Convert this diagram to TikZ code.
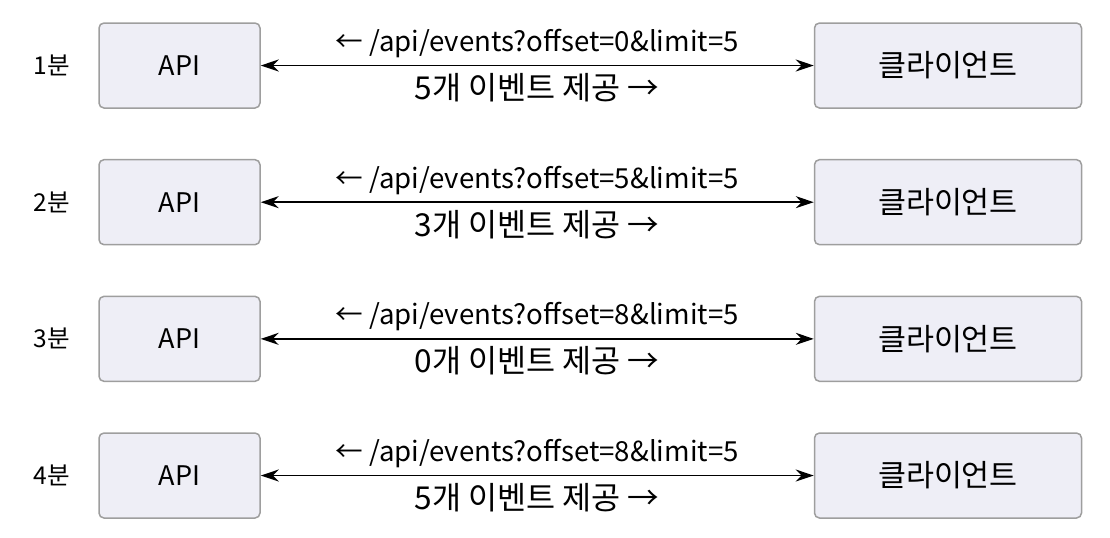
\documentclass[tikz,border=0pt]{standalone}
\usepackage{fontspec}
\setmainfont{Noto Sans CJK KR}
\newfontfamily\kr[Scale=1.17]{Noto Sans CJK KR}
\usetikzlibrary{arrows.meta,positioning}
\definecolor{boxfill}{HTML}{EEEEF6}
\definecolor{boxline}{HTML}{9E9E9E}
\begin{document}
\begin{tikzpicture}[x=0.5pt, y=-0.5pt,
  box/.style = {draw=boxline, line width=0.75pt, fill=boxfill, rounded corners=2.5pt,
    minimum height=42.5pt, inner sep=0pt, font=\fontsize{13.5}{15}\selectfont},
  api/.style = {box, minimum width=80.5pt},
  cli/.style = {box, minimum width=133.5pt, font=\fontsize{13}{15}\selectfont\kr},
  time/.style = {font=\fontsize{10.5}{13}\selectfont\kr},
  msg/.style = {font=\fontsize{13.8}{16}\selectfont, anchor=base, inner sep=0pt},
  res/.style = {msg, font=\fontsize{13.5}{16}\selectfont\kr},
  link/.style = {{Stealth[length=9pt,width=6pt]}-{Stealth[length=9pt,width=6pt]}, line width=0.75pt}]
\useasboundingbox (0,0) rectangle (1110,537);
\foreach \i/\off/\cnt in {1/0/5, 2/5/3, 3/8/0, 4/8/5} {
  \pgfmathsetmacro{\y}{65.5+136.67*(\i-1)}
  \node[api] (api\i) at (179.5,\y) {API};
  \node[cli] (cli\i) [right=276.5pt of api\i] {클라이언트};
  \node[time] (t\i) at (51.5,\y) {{\i}분};
  \draw[link] (api\i) -- (cli\i);
  \node[msg] (req\i) at (537,\y-14) {← /api/events?offset={\off}\&limit=5};
  \node[res] (res\i) at (537,\y+34) {{\cnt}개 이벤트 제공 →};
}
\end{tikzpicture}
\end{document}
